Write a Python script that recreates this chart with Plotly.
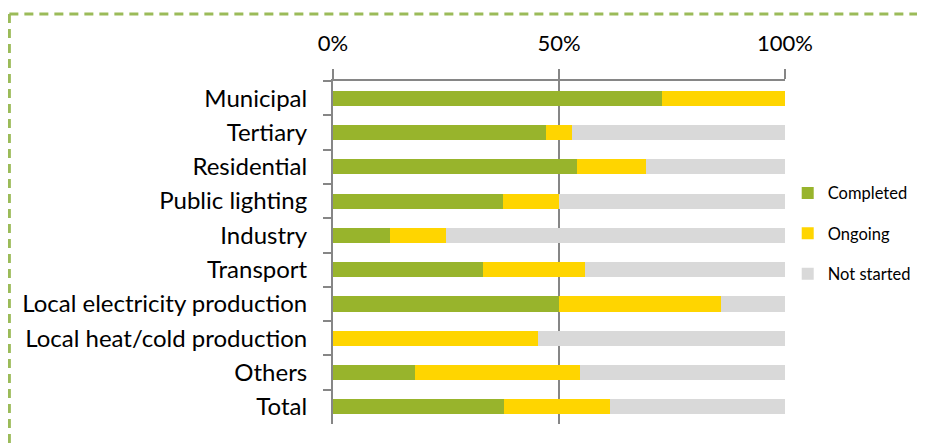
"""
Action status by sector - stacked horizontal bar chart
"""
import plotly.graph_objects as go

# sectors, top to bottom
categories = [
    "Municipal", "Tertiary", "Residential", "Public lighting", "Industry",
    "Transport", "Local electricity production", "Local heat/cold production",
    "Others", "Total",
]
# share of actions (%) per status
completed = [72.7, 47.1, 53.9, 37.6, 12.6, 33.2, 50.0, 0.0, 18.1, 37.8]
ongoing = [27.3, 5.8, 15.3, 12.4, 12.4, 22.6, 35.8, 45.3, 36.5, 23.5]
not_started = [0.0, 47.1, 30.8, 50.0, 75.0, 44.2, 14.2, 54.7, 45.4, 38.7]

tick_vals = [0, 50, 100]
tick_text = ["0%", "50%", "100%"]

series = [
    ("Completed", completed, "#98B42C"),
    ("Ongoing", ongoing, "#FFD500"),
    ("Not started", not_started, "#D9D9D9"),
]

fig = go.Figure()
for name, vals, color in series:
    fig.add_trace(go.Bar(
        y=categories, x=vals, name=name, orientation="h",
        marker=dict(color=color, line=dict(width=0)),
        legendgroup=name,
    ))

# page body adds an 8px margin, so the figure is 917x440
# plot area (figure px): x 325..777, y 73..416
fig.update_layout(
    width=917, height=440,
    margin=dict(l=325, r=140, t=73, b=24, autoexpand=False),
    barmode="stack", bargap=0.56,
    paper_bgcolor="white", plot_bgcolor="white",
    font=dict(family="Lato, Calibri, sans-serif", color="black", size=24),
    showlegend=True,
    legend=dict(
        x=1.006, xanchor="left", y=0.724, yanchor="top",
        font=dict(size=16.5), tracegroupgap=16,
        bgcolor="rgba(0,0,0,0)",
    ),
)
fig.update_xaxes(
    side="top", range=[0, 100], tickvals=tick_vals, ticktext=tick_text,
    showline=True, linecolor="#868686", linewidth=2,
    showgrid=True, gridcolor="#868686", gridwidth=2,
    ticks="outside", ticklen=10, tickwidth=2, tickcolor="#868686",
    zeroline=False, ticklabelstandoff=9, tickfont=dict(size=22),
    automargin=False,
)
fig.update_yaxes(
    autorange="reversed", showline=True, linecolor="#868686", linewidth=2,
    ticks="outside", ticklen=8, tickwidth=2, tickcolor="#868686",
    tickson="boundaries", showgrid=False, ticklabelstandoff=19,
    automargin=False,
)

# dashed green frame (top and left edges)
frame = dict(type="line", xref="paper", yref="paper",
             line=dict(color="#9BBB59", width=3, dash="9px,6px"))
fig.add_shape(x0=-0.716, x1=1.45, y0=1.195, y1=1.195, **frame)
fig.add_shape(x0=-0.716, x1=-0.716, y0=1.195, y1=-0.1, **frame)

fig.write_html("out.html")
